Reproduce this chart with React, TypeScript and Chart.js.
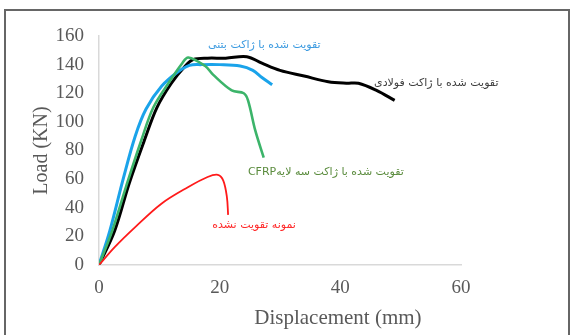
import React, { useEffect, useRef } from "react";
import { Chart, registerables } from "chart.js";

Chart.register(...registerables);

// Steel jacket (black)
const steelX = [0, 2.6, 5, 7.6, 9.6, 12, 14.3, 15.6, 18, 21, 24.5, 27, 30, 34, 38, 41, 43, 46, 49];
const steelY = [0, 24, 57, 88, 110, 127, 139, 143.5, 144.5, 144.5, 145.5, 141, 136, 132, 128, 127, 127, 122, 115];
// Concrete jacket (blue)
const concreteX = [0, 1.8, 4, 6, 7.8, 10.4, 13.1, 15, 17, 20, 23.4, 25.5, 27, 28.7];
const concreteY = [0, 24, 60, 90, 109, 125, 135, 139.5, 140, 140, 139, 136, 131, 126];
// CFRP 3-layer jacket (green)
const cfrpX = [0, 2.2, 4.5, 7, 9, 11.5, 13.8, 14.8, 17.6, 18.9, 22, 24, 24.7, 25.9, 27.3];
const cfrpY = [0, 24, 55, 87, 110, 127, 141, 145, 139, 133, 122, 120, 115, 94, 75];
// Unstrengthened (red)
const refX = [0, 2.6, 6, 10.4, 14.8, 18, 19.7, 20.6, 21.2, 21.4];
const refY = [0, 12.5, 26.5, 43, 54.5, 61.5, 63, 59, 47.5, 35];

const xTicks = [0, 20, 40, 60];
const yTicks = [0, 20, 40, 60, 80, 100, 120, 140, 160];

const labelTexts = [
  "تقویت شده با ژاکت بتنی",
  "تقویت شده با ژاکت فولادی",
  "تقویت شده با ژاکت سه لایهCFRP",
  "نمونه تقویت نشده",
];
const labelX = [27.4, 55.9, 37.6, 25.7];
const labelY = [153.5, 127.2, 65, 28];
const labelColors = ["#3d9be0", "#404040", "#5b8c3e", "#ff2a2a"];

const xTitle = "Displacement (mm)";
const yTitle = "Load (KN)";

const pts = (xs: number[], ys: number[]) => xs.map((x, i) => ({ x, y: ys[i] }));

export default function App() {
  const ref = useRef<HTMLCanvasElement | null>(null);
  useEffect(() => {
    if (!ref.current) return;
    const labelsPlugin = {
      id: "curveLabels",
      afterDraw(chart: any) {
        const ctx = chart.ctx;
        const xs = chart.scales.x;
        const ys = chart.scales.y;
        ctx.save();
        ctx.font = "11px 'DejaVu Sans', sans-serif";
        ctx.textAlign = "center";
        ctx.textBaseline = "middle";
        (ctx as any).direction = "rtl";
        labelTexts.forEach((t, i) => {
          ctx.fillStyle = labelColors[i];
          ctx.fillText(t, xs.getPixelForValue(labelX[i]), ys.getPixelForValue(labelY[i]));
        });
        (ctx as any).direction = "ltr";
        ctx.font = "21px 'Liberation Serif', serif";
        ctx.fillStyle = "#595959";
        ctx.fillText(xTitle, xs.getPixelForValue(39.6), 318);
        ctx.restore();
      },
    };
    const chart = new Chart(ref.current, {
      type: "line",
      data: {
        datasets: [
          { data: pts(refX, refY), borderColor: "#ff1a1a", borderWidth: 1.8 },
          { data: pts(cfrpX, cfrpY), borderColor: "#3cb46a", borderWidth: 2.6 },
          { data: pts(concreteX, concreteY), borderColor: "#1aa3ea", borderWidth: 3 },
          { data: pts(steelX, steelY), borderColor: "#000000", borderWidth: 3 },
        ].map((d) => ({
          ...d,
          pointRadius: 0,
          fill: false,
          tension: 0.35,
        })),
      },
      options: {
        responsive: false,
        animation: false,
        layout: { padding: { left: 0, right: 111, top: 36, bottom: 0 } },
        plugins: { legend: { display: false }, tooltip: { enabled: false } },
        scales: {
          x: {
            type: "linear",
            min: 0,
            max: 60,
            afterBuildTicks: (s: any) => {
              s.ticks = xTicks.map((v) => ({ value: v }));
            },
            afterFit: (s: any) => {
              s.height = 70;
            },
            ticks: {
              color: "#595959",
              font: { family: "'Liberation Serif', serif", size: 19 },
              padding: 12,
              maxRotation: 0,
            },
            grid: { display: false, drawTicks: false },
            border: { display: true, color: "#d9d9d9", width: 1.5 },
          },
          y: {
            type: "linear",
            min: 0,
            max: 160,
            afterBuildTicks: (s: any) => {
              s.ticks = yTicks.map((v) => ({ value: v }));
            },
            afterFit: (s: any) => {
              s.width = 99;
            },
            ticks: {
              color: "#595959",
              font: { family: "'Liberation Serif', serif", size: 19 },
              padding: 15,
            },
            grid: { display: false, drawTicks: false },
            border: { display: true, color: "#d9d9d9", width: 1.5 },
            title: {
              display: true,
              text: yTitle,
              color: "#595959",
              font: { family: "'Liberation Serif', serif", size: 20 },
              padding: { top: 30, bottom: 0 },
            },
          },
        },
      },
      plugins: [labelsPlugin],
    });
    return () => chart.destroy();
  }, []);
  return (
    <div style={{ position: "fixed", left: 0, top: 0, width: 572, height: 335, background: "#fff" }}>
      <canvas ref={ref} width={572} height={335} style={{ position: "absolute", left: 0, top: 0 }} />
      <div
        style={{
          position: "absolute",
          left: 4,
          top: 9,
          width: 562,
          height: 340,
          border: "2px solid #666",
          pointerEvents: "none",
        }}
      />
    </div>
  );
}
